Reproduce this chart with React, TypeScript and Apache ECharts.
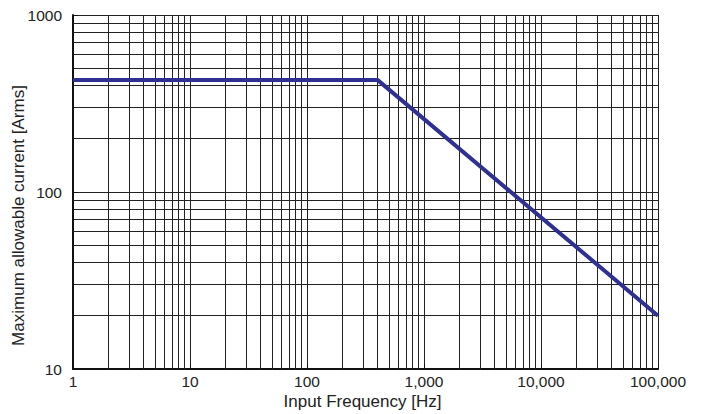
import React, { useEffect, useRef } from "react";
import * as echarts from "echarts";

const freqPoints = [1, 400, 100000];
const currentPoints = [430, 430, 20];
const xMinorGrid = [2, 3, 4, 5, 6, 7, 8, 9, 20, 30, 40, 50, 60, 70, 80, 90, 200, 300, 400, 500, 600, 700, 800, 900, 2000, 3000, 4000, 5000, 6000, 7000, 8000, 9000, 20000, 30000, 40000, 50000, 60000, 70000, 80000, 90000];
const yMinorGrid = [20, 30, 40, 50, 60, 70, 80, 90, 200, 300, 400, 500, 600, 700, 800, 900];
const xTitle = "Input Frequency [Hz]";
const yTitle = "Maximum allowable current [Arms]";

export default function App() {
  const ref = useRef<HTMLDivElement>(null);
  useEffect(() => {
    if (!ref.current) return;
    const chart = echarts.init(ref.current, null, { renderer: "svg" });
    const fmtX = (v: number) => Math.round(v).toLocaleString("en-US");
    const fmtY = (v: number) => String(Math.round(v));
    const gridLine = { color: "#222", width: 1 };
    const fontFamily = "Liberation Sans, Arial, sans-serif";
    chart.setOption({
      animation: false,
      textStyle: { fontFamily },
      grid: { left: 73, right: 46, top: 15, bottom: 45, containLabel: false, outerBoundsMode: "none" },
      graphic: [
        {
          type: "text",
          x: 362.5,
          y: 401,
          style: { text: xTitle, fontSize: 17, fontFamily, fill: "#222", align: "center", verticalAlign: "middle" },
        },
        {
          type: "text",
          x: 18,
          y: 215.5,
          rotation: Math.PI / 2,
          style: { text: yTitle, fontSize: 17, fontFamily, fill: "#222", align: "center", verticalAlign: "middle" },
        },
      ],
      xAxis: {
        type: "log",
        logBase: 10,
        min: 1,
        max: 100000,
        axisLine: { show: true, onZero: false, lineStyle: { color: "#111", width: 2 } },
        axisTick: { show: true, inside: true, length: 5, lineStyle: { color: "#111" } },
        axisLabel: { formatter: fmtX, fontSize: 15.5, color: "#222", margin: 4 },
        splitLine: { show: true, lineStyle: gridLine },
      },
      yAxis: {
        type: "log",
        logBase: 10,
        min: 10,
        max: 1000,
        axisLine: { show: true, onZero: false, lineStyle: { color: "#111", width: 2 } },
        axisTick: { show: true, inside: true, length: 5, lineStyle: { color: "#111" } },
        axisLabel: { formatter: fmtY, fontSize: 15.5, color: "#222", margin: 11 },
        splitLine: { show: true, lineStyle: gridLine },
      },
      series: [
        {
          type: "line",
          data: [],
          silent: true,
          markLine: {
            silent: true,
            symbol: "none",
            label: { show: false },
            lineStyle: { color: "#222", width: 1, type: "solid" },
            emphasis: { disabled: true },
            data: [
              ...xMinorGrid.map((v) => ({ xAxis: v })),
              ...yMinorGrid.map((v) => ({ yAxis: v })),
            ],
          },
        },
        {
          type: "line",
          data: freqPoints.map((f, i) => [f, currentPoints[i]]),
          showSymbol: false,
          symbol: "none",
          lineStyle: { color: "#2E3192", width: 4 },
          z: 5,
        },
      ],
    });
    return () => chart.dispose();
  }, []);
  return <div ref={ref} style={{ position: "fixed", left: 0, top: 0, width: 704, height: 414, background: "#fff" }} />;
}
